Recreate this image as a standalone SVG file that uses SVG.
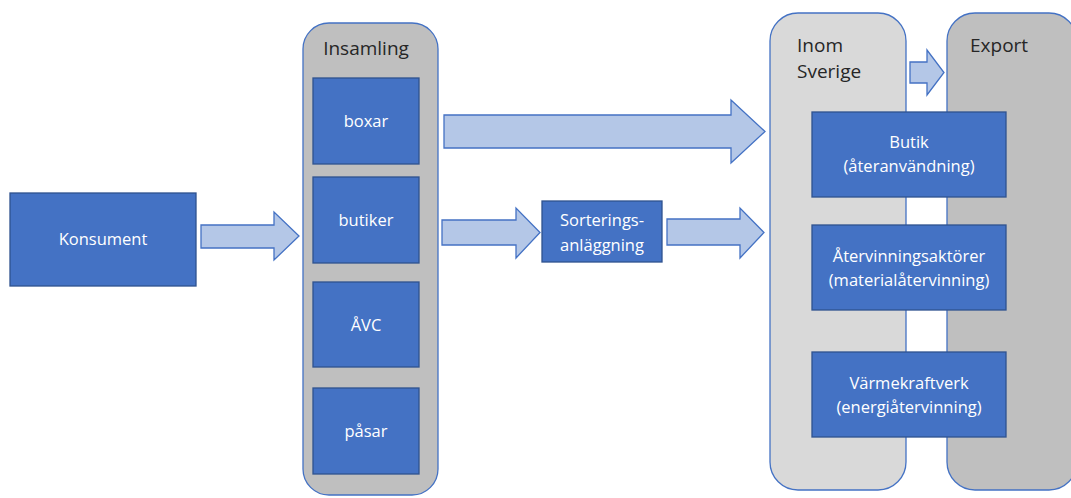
<svg xmlns="http://www.w3.org/2000/svg" width="1071" height="498" viewBox="0 0 1071 498">
<style>
.box{fill:#4472C4;stroke:#2F528F;stroke-width:1.3}
.wt{fill:#FFFFFF;font-family:"Open Sans","Liberation Sans",sans-serif;font-size:16.5px;text-anchor:middle}
.title{fill:#262626;font-family:"Open Sans","Liberation Sans",sans-serif;font-size:19px}
.arrow{fill:#B4C7E7;stroke:#4472C4;stroke-width:1.3}
.cont{stroke:#4472C4;stroke-width:1.3}
</style>
<rect width="1071" height="498" fill="#FFFFFF"/>
<g id="inom">
<rect class="cont" x="770" y="13" width="136" height="477" rx="28" fill="#D9D9D9"/>
<text class="title" x="797" y="52">Inom</text>
<text class="title" x="797" y="78">Sverige</text>
</g>
<g id="export">
<rect class="cont" x="947" y="13" width="130" height="477" rx="28" fill="#BFBFBF"/>
<text class="title" x="970" y="52">Export</text>
</g>
<g id="insamling">
<rect class="cont" x="303" y="23" width="135" height="472" rx="26" fill="#BFBFBF"/>
<text class="title" x="366" y="55" text-anchor="middle">Insamling</text>
</g>
<g id="boxar"><rect class="box" x="313" y="78" width="106" height="86"/><text class="wt" x="366" y="127">boxar</text></g>
<g id="butiker"><rect class="box" x="313" y="177" width="106" height="86"/><text class="wt" x="366" y="226">butiker</text></g>
<g id="avc"><rect class="box" x="313" y="282" width="106" height="85"/><text class="wt" x="366" y="331">ÅVC</text></g>
<g id="pasar"><rect class="box" x="313" y="388" width="106" height="86"/><text class="wt" x="366" y="437">påsar</text></g>
<g id="konsument"><rect class="box" x="10" y="193" width="186" height="93"/><text class="wt" x="103" y="245">Konsument</text></g>
<g id="sortering"><rect class="box" x="542" y="201" width="120" height="61"/><text class="wt" x="602" y="226">Sorterings-</text><text class="wt" x="602" y="251">anläggning</text></g>
<g id="connectors">
<polygon class="arrow" points="201,225 274,225 274,212 299,236 274,260 274,248 201,248"/>
<polygon class="arrow" points="442,220 516,220 516,208 540,232.5 516,258 516,245 442,245"/>
<polygon class="arrow" points="667,219 740,219 740,208 764,232.5 740,258 740,245 667,245"/>
<polygon class="arrow" points="444,115 731,115 731,100 765,131.5 731,163 731,148 444,148"/>
<polygon class="arrow" points="910,62 927,62 927,50 944,72.5 927,95 927,83 910,83"/>
</g>
<g id="butik"><rect class="box" x="812" y="112" width="194" height="85"/><text class="wt" x="909" y="148">Butik</text><text class="wt" x="909" y="172">(återanvändning)</text></g>
<g id="atervinning"><rect class="box" x="812" y="225" width="194" height="85"/><text class="wt" x="909" y="262">Återvinningsaktörer</text><text class="wt" x="909" y="286">(materialåtervinning)</text></g>
<g id="varmekraftverk"><rect class="box" x="812" y="352" width="194" height="85"/><text class="wt" x="909" y="389">Värmekraftverk</text><text class="wt" x="909" y="413">(energiåtervinning)</text></g>
</svg>
